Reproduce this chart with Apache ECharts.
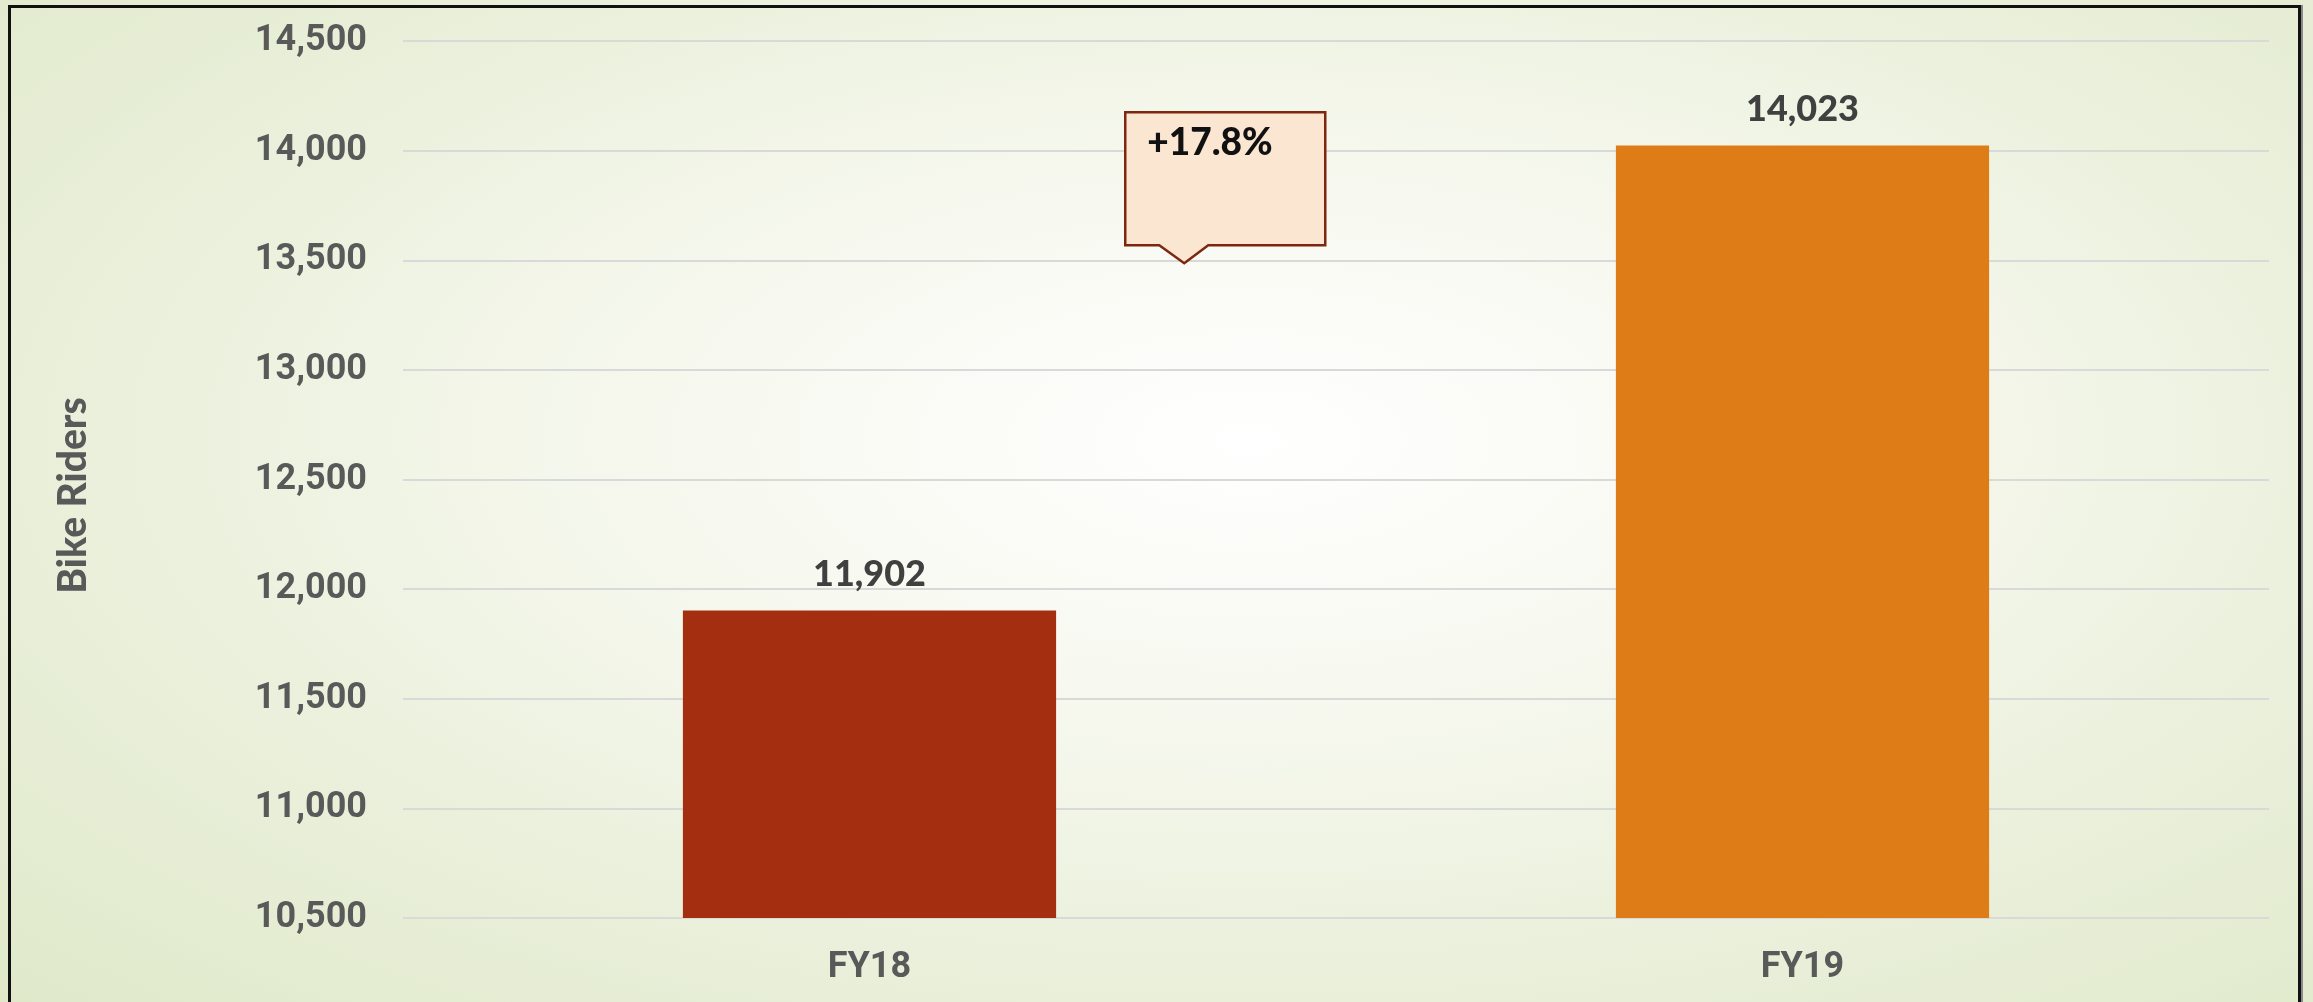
<!DOCTYPE html>
<html>
<head>
<meta charset="utf-8">
<script src="https://cdn.jsdelivr.net/npm/echarts@6/dist/echarts.min.js"></script>
<style>
  html, body { margin: 0; padding: 0; }
  body {
    width: 2313px; height: 1002px; overflow: hidden; position: relative;
    background: radial-gradient(ellipse 75% 80% at 54% 44%, #ffffff 0%, #f6f8ee 35%, #e9efd9 70%, #dfe9ca 100%);
  }
  #frame {
    position: absolute; left: 8px; top: 5px; width: 2287px; height: 1010px;
    border: 3px solid #111; box-shadow: 2px 0 0 #8a8a8a;
  }
  #riders { position: absolute; left: 0; top: 0; width: 2313px; height: 1002px; }
</style>
</head>
<body>
<div id="frame"></div>
<div id="riders"></div>
<script>
// data
const categories = ['FY18', 'FY19'];
const riders = [11902, 14023];
const barColors = ['#a32e10', '#de7c18'];
const yMin = 10500;
const yMax = 14500;
const yStep = 500;
const changeLabel = '+17.8%';

const chart = echarts.init(document.getElementById('riders'));

const option = {
  backgroundColor: 'transparent',
  animation: false,
  grid: { left: 403, right: 44, top: 41, bottom: 84 },
  xAxis: {
    type: 'category',
    data: categories,
    axisLine: { show: false },
    axisTick: { show: false },
    axisLabel: {
      margin: 32,
      color: '#595959',
      fontFamily: 'Roboto',
      fontWeight: 'bold',
      fontSize: 36
    }
  },
  yAxis: {
    type: 'value',
    min: yMin,
    max: yMax,
    interval: yStep,
    name: 'Bike Riders',
    nameLocation: 'middle',
    nameGap: 310,
    nameTextStyle: {
      color: '#595959',
      fontFamily: 'Lato',
      fontWeight: 900,
      fontSize: 39,
      padding: [0, 32, 0, 0]
    },
    axisLine: { show: false },
    axisTick: { show: false },
    splitLine: { lineStyle: { color: '#d9d9d9', width: 2 } },
    axisLabel: {
      margin: 36,
      color: '#595959',
      fontFamily: 'Roboto',
      fontWeight: 'bold',
      fontSize: 36,
      formatter: v => v.toLocaleString('en-US')
    }
  },
  series: [{
    type: 'bar',
    barWidth: '40%',
    data: riders.map((v, i) => ({ value: v, itemStyle: { color: barColors[i] } })),
    label: {
      show: true,
      position: 'top',
      distance: 18,
      color: '#404040',
      fontFamily: 'Lato',
      fontWeight: 900,
      fontSize: 36,
      formatter: p => p.value.toLocaleString('en-US')
    }
  }],
  graphic: [{
    type: 'group',
    left: 1124,
    top: 111,
    z: 100,
    children: [{
      type: 'polygon',
      z: 100,
      shape: { points: [[0, 0], [200, 0], [200, 133], [83, 133], [59, 151], [34, 133], [0, 133]] },
      style: { fill: '#fae6d1', stroke: '#7e2610', lineWidth: 2.5 }
    }, {
      type: 'text',
      z: 101,
      x: 22,
      y: 12,
      style: {
        text: changeLabel,
        fill: '#111',
        font: '900 37px Lato'
      }
    }]
  }]
};

chart.setOption(option);
</script>
</body>
</html>
